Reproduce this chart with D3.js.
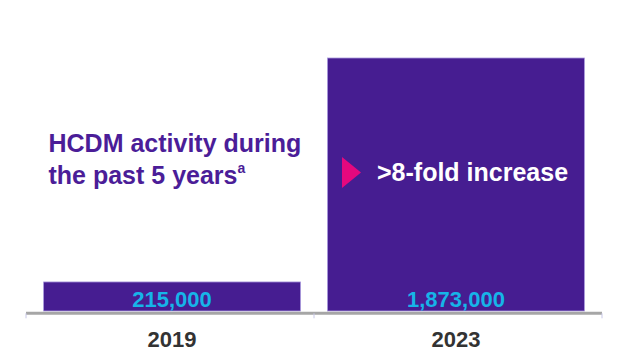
<!DOCTYPE html>
<html><head><meta charset="utf-8">
<script src="https://cdn.jsdelivr.net/npm/d3@7"></script>
<style>body{margin:0;background:#fff}svg{display:block}</style>
</head><body>
<script>
const categories = ["2019", "2023"];
const values = [215000, 1873000];
const valueLabels = ["215,000", "1,873,000"];
const titleLines = ["HCDM activity during", "the past 5 years"];
const calloutText = ">8-fold increase";

const W = 624, H = 364;
const svg = d3.select("body").append("svg").attr("width", W).attr("height", H);
const font = "Arial, 'Liberation Sans', sans-serif";

const x = d3.scaleBand().domain(categories).range([26, 602]).paddingInner(0.095).paddingOuter(0.062);
const y = d3.scaleLinear().domain([0, 1873000]).range([311, 58]);

svg.selectAll("rect.bar").data(values).join("rect")
  .attr("class", "bar")
  .attr("x", (d, i) => x(categories[i]))
  .attr("width", x.bandwidth())
  .attr("y", d => y(d))
  .attr("height", d => y(0) - y(d))
  .attr("fill", "#461d91")
  .attr("stroke", "#a898dc").attr("stroke-width", 0.8);

// axis
const axisG = svg.append("g").attr("transform", "translate(0,313.3)");
axisG.append("line").attr("x1", 26).attr("x2", 602).attr("y1", 0).attr("y2", 0)
  .attr("stroke", "#a6a6a6").attr("stroke-width", 3);
const bounds = [26, (x("2019") + x.bandwidth() + x("2023")) / 2, 602];
axisG.selectAll("line.tick").data(bounds).join("line").attr("class", "tick")
  .attr("x1", d => d).attr("x2", d => d).attr("y1", 0).attr("y2", 5)
  .attr("stroke", "#c8c8e8").attr("stroke-width", 1);

svg.selectAll("text.cat").data(categories).join("text").attr("class", "cat")
  .attr("x", d => x(d) + x.bandwidth() / 2).attr("y", 346.5)
  .attr("text-anchor", "middle").attr("font-family", font).attr("font-weight", "bold")
  .attr("font-size", 22).attr("fill", "#333333").text(d => d);

svg.selectAll("text.val").data(values).join("text").attr("class", "val")
  .attr("x", (d, i) => x(categories[i]) + x.bandwidth() / 2).attr("y", 306.5)
  .attr("text-anchor", "middle").attr("font-family", font).attr("font-weight", "bold")
  .attr("font-size", 22).attr("fill", "#16b4e8").text((d, i) => valueLabels[i]);

// title
const t = svg.append("text").attr("font-family", font).attr("font-weight", "bold")
  .attr("font-size", 25).attr("fill", "#4b1d98");
t.append("tspan").attr("x", 48.5).attr("y", 151.5).text(titleLines[0]);
t.append("tspan").attr("x", 48.5).attr("y", 183.5).text(titleLines[1]);
t.append("tspan").attr("font-size", 14).attr("dy", -11).text("a");

// callout
svg.append("path").attr("d", "M342,157 L361,172.5 L342,188 Z").attr("fill", "#e5087e");
svg.append("text").attr("x", 377).attr("y", 181).attr("font-family", font).attr("font-weight", "bold")
  .attr("font-size", 25).attr("fill", "#ffffff").text(calloutText);
</script>
</body></html>
